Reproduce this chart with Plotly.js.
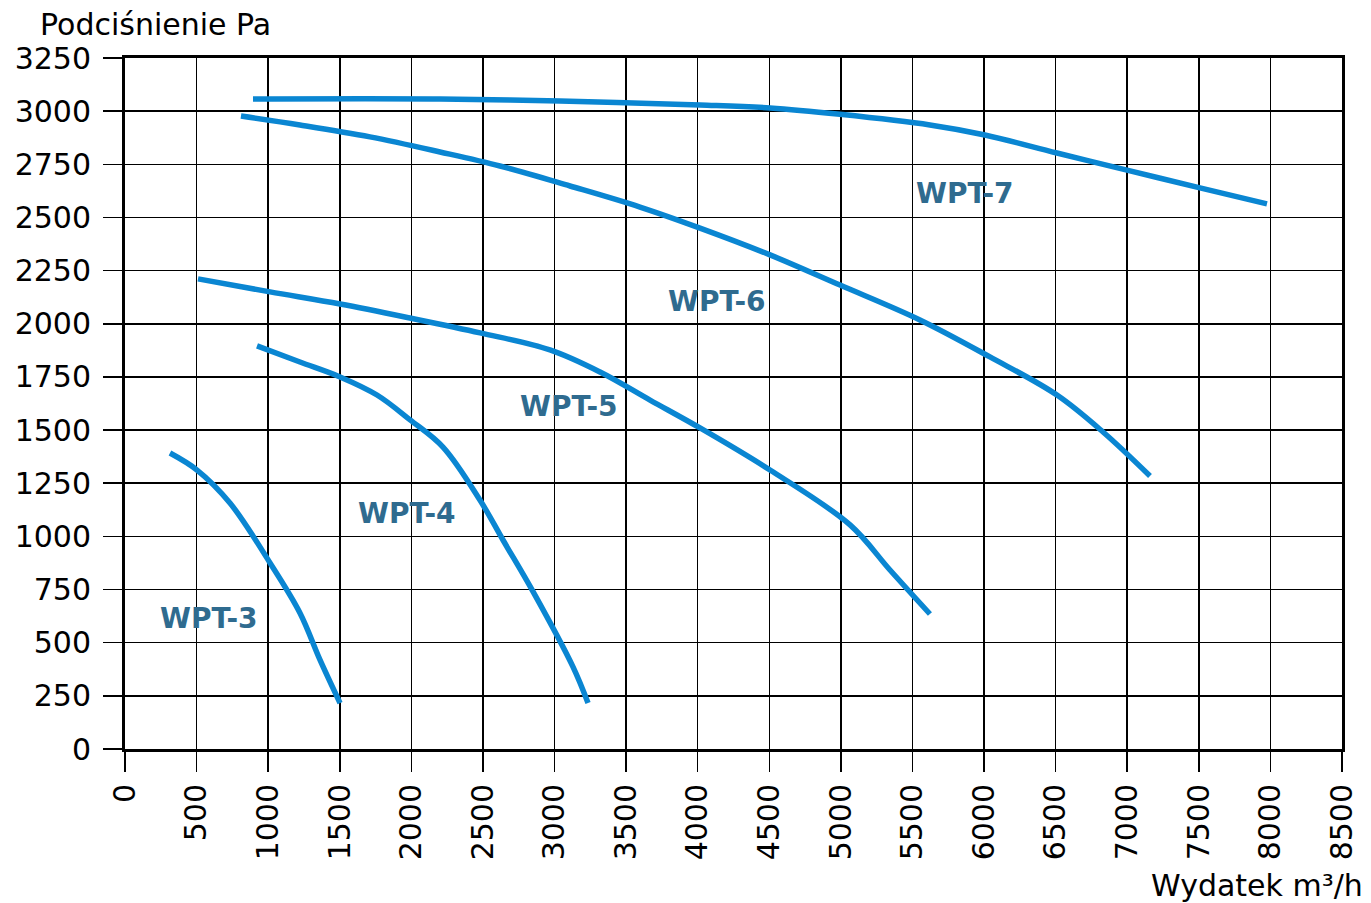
<!DOCTYPE html>
<html><head><meta charset="utf-8">
<script src="https://cdn.plot.ly/plotly-3.0.1.min.js"></script>
<style>body{margin:0;background:#fff}#c{width:1371px;height:903px}</style>
</head><body><div id="c"></div>
<script>
const seriesNames = ["WPT-3","WPT-4","WPT-5","WPT-6","WPT-7"];
const wpt3_x = [314, 503, 733, 1013, 1222, 1362, 1502];
const wpt3_y = [1392, 1312, 1157, 875, 640, 419, 216];
const wpt4_x = [922, 1222, 1502, 1760, 1991, 2221, 2479, 2640, 2850, 3129, 3234];
const wpt4_y = [1896, 1820, 1750, 1665, 1548, 1420, 1171, 983, 740, 386, 216];
const wpt5_x = [510, 1013, 1502, 1991, 2480, 2968, 3318, 3667, 4016, 4505, 5064, 5343, 5622];
const wpt5_y = [2211, 2150, 2093, 2027, 1957, 1877, 1773, 1641, 1510, 1312, 1054, 842, 635];
const wpt6_x = [810, 1222, 1711, 2200, 2619, 3108, 3597, 4016, 4505, 4994, 5552, 6041, 6509, 6831, 7159];
const wpt6_y = [2977, 2935, 2879, 2808, 2742, 2648, 2549, 2450, 2324, 2182, 2018, 1844, 1665, 1491, 1284];
const wpt7_x = [894, 2200, 3038, 4016, 4505, 4994, 5622, 6006, 6509, 6998, 7508, 7976];
const wpt7_y = [3057, 3057, 3048, 3029, 3015, 2985, 2935, 2888, 2803, 2723, 2639, 2564];
const labelX = [587, 1970, 3101, 4135, 5867];
const labelY = [612, 1110, 1609, 2103, 2611];
const xTicks = [0,500,1000,1500,2000,2500,3000,3500,4000,4500,5000,5500,6000,6500,7000,7500,8000,8500];
const yTicks = [0,250,500,750,1000,1250,1500,1750,2000,2250,2500,2750,3000,3250];

const xs = [wpt3_x, wpt4_x, wpt5_x, wpt6_x, wpt7_x];
const ys = [wpt3_y, wpt4_y, wpt5_y, wpt6_y, wpt7_y];
const lineColor = "#0a86d2";
const labelColor = "#2f6b8f";
const font = "DejaVu Sans, sans-serif";

const traces = seriesNames.map((n, i) => ({
  type: "scatter", mode: "lines", name: n, x: xs[i], y: ys[i],
  line: {color: lineColor, width: 5.5, shape: "spline", smoothing: 1},
  hoverinfo: "skip", showlegend: false
}));

const annotations = seriesNames.map((n, i) => ({
  x: labelX[i], y: labelY[i], xref: "x", yref: "y", text: "<b>" + n + "</b>",
  showarrow: false, font: {family: font, size: 28, color: labelColor}
}));
annotations.push({xref: "paper", yref: "paper", x: -0.0715, y: 1.048, xanchor: "left", yanchor: "middle",
  text: "Podciśnienie Pa", showarrow: false, font: {family: font, size: 30, color: "#000"}});
annotations.push({xref: "paper", yref: "paper", x: 1.019, y: -0.197, xanchor: "right", yanchor: "middle",
  text: "Wydatek m³/h", showarrow: false, font: {family: font, size: 30, color: "#000"}});

const layout = {
  width: 1371, height: 903, autosize: false,
  margin: {l: 125, r: 29, t: 58, b: 154, pad: 0},
  paper_bgcolor: "#fff", plot_bgcolor: "#fff",
  xaxis: {range: [0, 8500], tickvals: xTicks, ticktext: xTicks.map(String), tickangle: -90,
    ticks: "outside", ticklen: 20, tickwidth: 1.5, tickcolor: "#000",
    showgrid: true, gridcolor: "#000", gridwidth: 1.5, zeroline: false,
    showline: true, linecolor: "#000", linewidth: 3, mirror: true,
    tickfont: {family: font, size: 30, color: "#000"}, fixedrange: true},
  yaxis: {range: [0, 3250], tickvals: yTicks, ticktext: yTicks.map(String),
    ticks: "outside", ticklen: 19, tickwidth: 1.5, tickcolor: "#000", ticklabelstandoff: 6,
    showgrid: true, gridcolor: "#000", gridwidth: 1.5, zeroline: false,
    showline: true, linecolor: "#000", linewidth: 3, mirror: true,
    tickfont: {family: font, size: 30, color: "#000"}, fixedrange: true},
  annotations: annotations
};
Plotly.newPlot("c", traces, layout, {staticPlot: true, displayModeBar: false});
</script></body></html>
